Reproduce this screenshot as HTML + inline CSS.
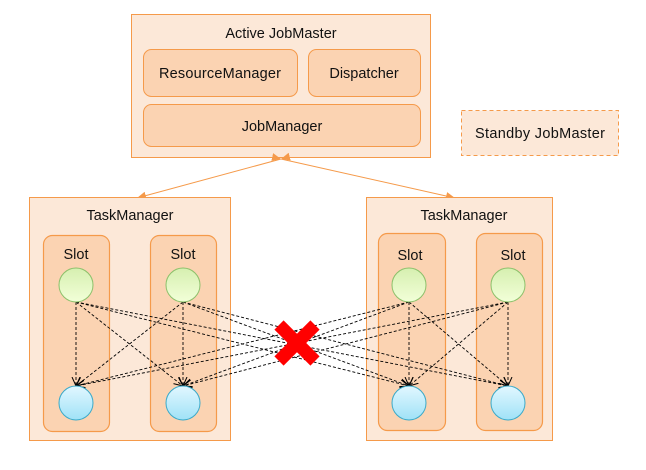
<!DOCTYPE html>
<html><head><meta charset="utf-8"><style>
html,body{margin:0;padding:0;background:#fff;width:646px;height:470px;overflow:hidden}
text{font-family:"Liberation Sans",sans-serif;fill:#111}
</style></head><body>
<svg width="646" height="470" viewBox="0 0 646 470" xmlns="http://www.w3.org/2000/svg">
<defs>
<linearGradient id="g" x1="0" y1="0" x2="0" y2="1"><stop offset="0" stop-color="#d6efb0"/><stop offset="1" stop-color="#f2ffd8"/></linearGradient>
<linearGradient id="b" x1="0" y1="0" x2="0" y2="1"><stop offset="0" stop-color="#e2f7ff"/><stop offset="1" stop-color="#9fe2f7"/></linearGradient>
<marker id="ah" markerWidth="10" markerHeight="10" refX="9" refY="5" orient="auto" markerUnits="userSpaceOnUse"><path d="M0,1 L9,5 L0,9" fill="none" stroke="#000" stroke-width="1"/></marker>
<marker id="oa" markerWidth="10" markerHeight="10" refX="9" refY="5" orient="auto" markerUnits="userSpaceOnUse"><path d="M0,1 L9,5 L0,9 z" fill="#f59a4a"/></marker>
</defs>
<rect x="131.5" y="14.5" width="299" height="143" fill="#fce8d8" stroke="#f59a4a"/>
<text x="281" y="38" font-size="14.5" text-anchor="middle">Active JobMaster</text>
<rect x="143.5" y="49.5" width="154" height="47" rx="8" fill="#fbd3b2" stroke="#f59a4a"/>
<text x="220" y="78" font-size="14.5" text-anchor="middle" textLength="122">ResourceManager</text>
<rect x="308.5" y="49.5" width="112" height="47" rx="8" fill="#fbd3b2" stroke="#f59a4a"/>
<text x="364" y="78" font-size="14.5" text-anchor="middle">Dispatcher</text>
<rect x="143.5" y="104.5" width="277" height="42" rx="8" fill="#fbd3b2" stroke="#f59a4a"/>
<text x="282" y="131" font-size="14.5" text-anchor="middle">JobManager</text>
<rect x="461.5" y="110.5" width="157" height="45" fill="#fce8d8" stroke="#f59a4a" stroke-dasharray="4,3"/>
<text x="540" y="138" font-size="14.5" text-anchor="middle" textLength="130">Standby JobMaster</text>
<line x1="281" y1="159" x2="137" y2="198" stroke="#f59a4a" marker-end="url(#oa)" marker-start="url(#oa)"/>
<line x1="281" y1="159" x2="455" y2="198" stroke="#f59a4a" marker-end="url(#oa)" marker-start="url(#oa)"/>
<rect x="29.5" y="197.5" width="201" height="243" fill="#fce8d8" stroke="#f59a4a"/>
<text x="130" y="220" font-size="14.5" text-anchor="middle">TaskManager</text>
<rect x="366.5" y="197.5" width="186" height="243" fill="#fce8d8" stroke="#f59a4a"/>
<text x="464" y="220" font-size="14.5" text-anchor="middle">TaskManager</text>
<g fill="#fbd3b2" stroke="#f59a4a" stroke-width="1.2">
<rect x="43.5" y="235.5" width="66" height="196" rx="9"/>
<rect x="150.5" y="235.5" width="66" height="196" rx="9"/>
<rect x="378.5" y="233.5" width="67" height="197" rx="9"/>
<rect x="476.5" y="233.5" width="66" height="197" rx="9"/>
</g>
<g font-size="14.5" text-anchor="middle">
<text x="76" y="259">Slot</text><text x="183" y="259">Slot</text>
<text x="410" y="260">Slot</text><text x="513" y="260">Slot</text>
</g>
<g stroke="#000" stroke-width="0.9" stroke-dasharray="3,2" fill="none" marker-end="url(#ah)">
<line x1="76" y1="302" x2="76" y2="386"/><line x1="76" y1="302" x2="183" y2="386"/>
<line x1="76" y1="302" x2="409" y2="386"/><line x1="76" y1="302" x2="508" y2="386"/>
<line x1="183" y1="302" x2="76" y2="386"/><line x1="183" y1="302" x2="183" y2="386"/>
<line x1="183" y1="302" x2="409" y2="386"/><line x1="183" y1="302" x2="508" y2="386"/>
<line x1="409" y1="302" x2="409" y2="386"/><line x1="409" y1="302" x2="508" y2="386"/>
<line x1="409" y1="302" x2="76" y2="386"/><line x1="409" y1="302" x2="183" y2="386"/>
<line x1="508" y1="302" x2="508" y2="386"/><line x1="508" y1="302" x2="409" y2="386"/>
<line x1="508" y1="302" x2="76" y2="386"/><line x1="508" y1="302" x2="183" y2="386"/>
</g>
<g stroke="#8cc06a" stroke-width="1" fill="url(#g)">
<circle cx="76" cy="285" r="17"/><circle cx="183" cy="285" r="17"/>
<circle cx="409" cy="285" r="17"/><circle cx="508" cy="285" r="17"/>
</g>
<g stroke="#3aa9c8" stroke-width="1" fill="url(#b)">
<circle cx="76" cy="403" r="17"/><circle cx="183" cy="403" r="17"/>
<circle cx="409" cy="403" r="17"/><circle cx="508" cy="403" r="17"/>
</g>
<g stroke="#ff0000" stroke-width="13">
<line x1="279" y1="325" x2="315" y2="361"/><line x1="315" y1="325" x2="279" y2="361"/>
</g>
</svg>
</body></html>
